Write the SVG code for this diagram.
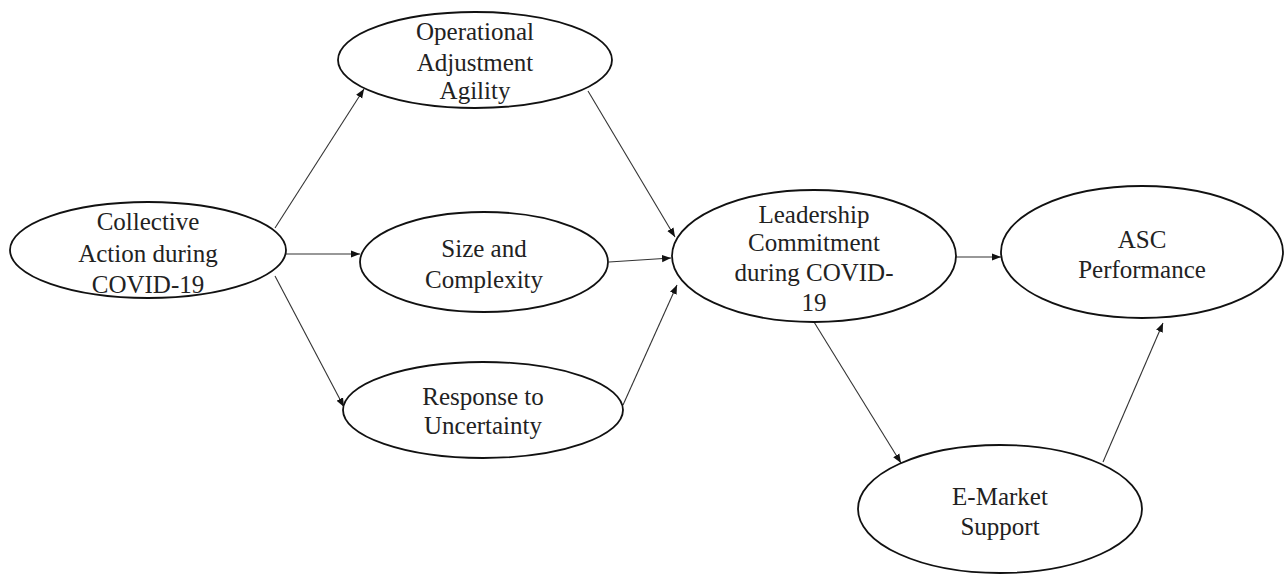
<svg xmlns="http://www.w3.org/2000/svg" width="1285" height="575" viewBox="0 0 1285 575">
<style>
.node ellipse{fill:#fff;stroke:#111;stroke-width:1.8}
.node text{font-family:"Liberation Serif","Times New Roman",serif;font-size:25px;fill:#222;text-anchor:middle}
.conn line{stroke:#333;stroke-width:1.1;marker-end:url(#ah)}
</style>
<defs>
<marker id="ah" viewBox="0 0 10 10" refX="10" refY="5" markerWidth="9" markerHeight="9" markerUnits="userSpaceOnUse" orient="auto">
<path d="M0,1 L10,5 L0,9 z" fill="#111"/>
</marker>
</defs>
<rect width="1285" height="575" fill="#fff"/>
<g class="conn" id="connectors">
<line x1="275" y1="228" x2="364" y2="89"/>
<line x1="286" y1="254" x2="360" y2="254"/>
<line x1="275" y1="276" x2="344" y2="407"/>
<line x1="588" y1="91" x2="675" y2="237"/>
<line x1="609" y1="262" x2="671" y2="258"/>
<line x1="623" y1="405" x2="677" y2="285"/>
<line x1="956" y1="257" x2="1001" y2="257"/>
<line x1="814" y1="322" x2="901" y2="463"/>
<line x1="1103" y1="462" x2="1163" y2="323"/>
</g>
<g class="node" id="collective">
<ellipse cx="148" cy="250" rx="138" ry="48"/>
<text x="148" y="230">Collective</text>
<text x="148" y="262">Action during</text>
<text x="148" y="293">COVID-19</text>
</g>
<g class="node" id="operational">
<ellipse cx="475" cy="60" rx="137" ry="48"/>
<text x="475" y="40">Operational</text>
<text x="475" y="71">Adjustment</text>
<text x="475" y="99">Agility</text>
</g>
<g class="node" id="size">
<ellipse cx="484" cy="262" rx="124" ry="50"/>
<text x="484" y="257">Size and</text>
<text x="484" y="288">Complexity</text>
</g>
<g class="node" id="response">
<ellipse cx="483" cy="410" rx="140" ry="48"/>
<text x="483" y="405">Response to</text>
<text x="483" y="434">Uncertainty</text>
</g>
<g class="node" id="leadership">
<ellipse cx="814" cy="256" rx="142" ry="66"/>
<text x="814" y="223">Leadership</text>
<text x="814" y="251">Commitment</text>
<text x="814" y="281">during COVID-</text>
<text x="814" y="311">19</text>
</g>
<g class="node" id="asc">
<ellipse cx="1142" cy="252" rx="141" ry="66"/>
<text x="1142" y="248">ASC</text>
<text x="1142" y="278">Performance</text>
</g>
<g class="node" id="emarket">
<ellipse cx="1000" cy="509" rx="142" ry="64"/>
<text x="1000" y="505">E-Market</text>
<text x="1000" y="535">Support</text>
</g>
</svg>
